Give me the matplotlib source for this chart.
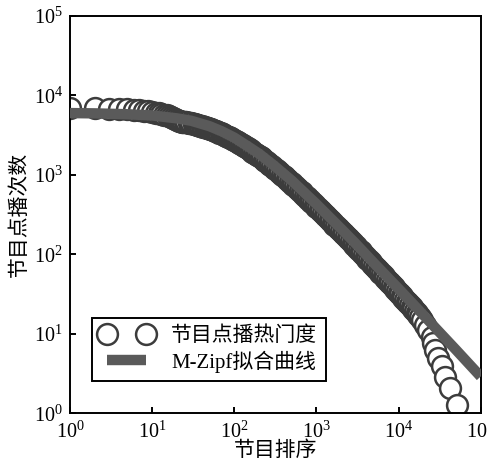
import numpy as np
import matplotlib
matplotlib.use('Agg')
import matplotlib.pyplot as plt

plt.rcParams['font.family'] = ['Liberation Serif', 'Noto Sans CJK SC']
plt.rcParams['mathtext.fontset'] = 'custom'
plt.rcParams['mathtext.rm'] = 'Liberation Serif'

rank = [1, 2, 3, 4, 5, 6, 7, 8, 9, 10, 11, 12, 13, 14, 15, 16, 17, 18, 19,
        20, 21, 22, 23, 24, 25, 26, 28, 29, 30, 32, 33, 35, 36, 38, 40, 42,
        44, 46, 48, 50, 52, 55, 58, 60, 63, 66, 69, 72, 76, 79, 83, 87, 91, 95,
        100, 105, 110, 115, 120, 126, 132, 138, 145, 151, 158, 166, 174, 182,
        191, 200, 209, 219, 229, 240, 251, 263, 275, 288, 302, 316, 331, 347,
        363, 380, 398, 417, 437, 457, 479, 501, 525, 550, 575, 603, 631, 661,
        692, 724, 759, 794, 832, 871, 912, 955,
        1000, 1047, 1096, 1148, 1202, 1259, 1318, 1380, 1445, 1514, 1585,
        1660, 1738, 1820, 1905, 1995, 2089, 2188, 2291, 2399, 2512, 2630,
        2754, 2884, 3020, 3162, 3311, 3467, 3631, 3802, 3981, 4169, 4365,
        4571, 4786, 5012, 5248, 5495, 5754, 6026, 6310, 6607, 6918, 7244,
        7586, 7943, 8318, 8710, 9120, 9550,
        10000, 10470, 10960, 11480, 12020, 12590, 13180, 13800, 14450, 15140,
        15850, 16600, 17380, 18200,
        19200, 21100, 23100, 25400, 26600, 27900, 30600, 33700, 37000, 42500,
        51300]
plays = [7000, 6900, 6850, 6800, 6700, 6650, 6550, 6450, 6350, 6200, 6100,
         6000, 5900, 5750, 5600, 5450, 5300, 5150, 5000,
         4850, 4800, 4750, 4700, 4650, 4615, 4580, 4540, 4500, 4440, 4380,
         4320, 4260, 4215, 4170, 4105, 4040, 3980, 3920, 3875, 3830, 3750,
         3670, 3605, 3540, 3470, 3400, 3335, 3270, 3190, 3110, 3035, 2960,
         2895, 2830,
         2750, 2665, 2580, 2510, 2440, 2365, 2290, 2220, 2150, 2090, 2030,
         1965, 1900, 1840, 1780, 1725, 1670, 1610, 1550, 1495, 1440, 1385,
         1330, 1280, 1235, 1185, 1140, 1095, 1050, 1010, 970, 930, 890, 855,
         823, 788, 755, 722, 690, 660, 630, 602, 575, 550, 525, 502, 480,
         460, 440, 420,
         400, 382, 365, 348, 331, 316, 301, 287, 274, 261, 249, 237, 226,
         216, 206, 196, 187, 178, 170, 162, 154, 147, 140, 133, 127, 121,
         115, 109, 103, 98, 93, 88.6, 84.5, 80.3, 76.4, 72, 68, 64.9, 62,
         59, 56, 53.2, 50.5, 48, 45.5, 43.2, 41, 38.9, 37, 34.9,
         33, 31.4, 29.8, 28.3, 26.8, 25.5, 24.2, 22.9, 21.6, 20.4, 19.3,
         18.2, 17.2, 16.1,
         15.0, 12.9, 11.2, 9.2, 7.6, 6.3, 4.9, 3.9, 2.9, 2.07, 1.27]

# M-Zipf fitted curve
fit_rank = [1, 2, 5, 10, 20, 30, 50, 70, 100, 150, 200, 300, 500, 1000,
            2000, 3000, 5000, 10000, 20000, 50000, 100000]
fit_plays = [6000, 5950, 5800, 5600, 5150, 4800, 4100, 3550, 2950, 2250,
             1850, 1330, 850, 430, 210, 137, 78, 37, 17.3, 6.3, 2.9]

fig = plt.figure(figsize=(4.87, 4.62), dpi=100)
ax = fig.add_axes([0.1437, 0.1054, 0.8433, 0.8600])

ax.plot(rank, plays, linestyle='none', marker='o', markersize=15,
        markerfacecolor='white', markeredgecolor='#3c3c3c',
        markeredgewidth=1.8, zorder=2, label='节目点播热门度')
ax.plot(fit_rank, fit_plays, color='#5a5a5a', linewidth=7.5, zorder=3,
        solid_capstyle='butt', label='M-Zipf拟合曲线')

ax.set_xscale('log')
ax.set_yscale('log')
ax.set_xlim(1, 1e5)
ax.set_ylim(1, 1e5)
ax.minorticks_off()
ax.set_xticks([1, 10, 100, 1e3, 1e4, 1e5])
ax.set_yticks([1, 10, 100, 1e3, 1e4, 1e5])
ax.tick_params(direction='in', length=4.5, width=1.4, labelsize=14.5,
               top=False, right=False)
ax.tick_params(axis='x', pad=6)
ax.tick_params(axis='y', pad=5)
for s in ax.spines.values():
    s.set_linewidth(1.4)

ax.set_xlabel('节目排序', fontsize=15, labelpad=-1)
ax.set_ylabel('节目点播次数', fontsize=15, labelpad=3)

leg = ax.legend(loc='lower left', bbox_to_anchor=(0.0536, 0.081),
                borderaxespad=0, numpoints=2, fontsize=15, fancybox=False,
                framealpha=1, edgecolor='black', handlelength=2.5,
                handletextpad=0.9, borderpad=0.4, labelspacing=0.2)
leg.get_frame().set_linewidth(1.4)

fig.savefig('out.png', dpi=100)
